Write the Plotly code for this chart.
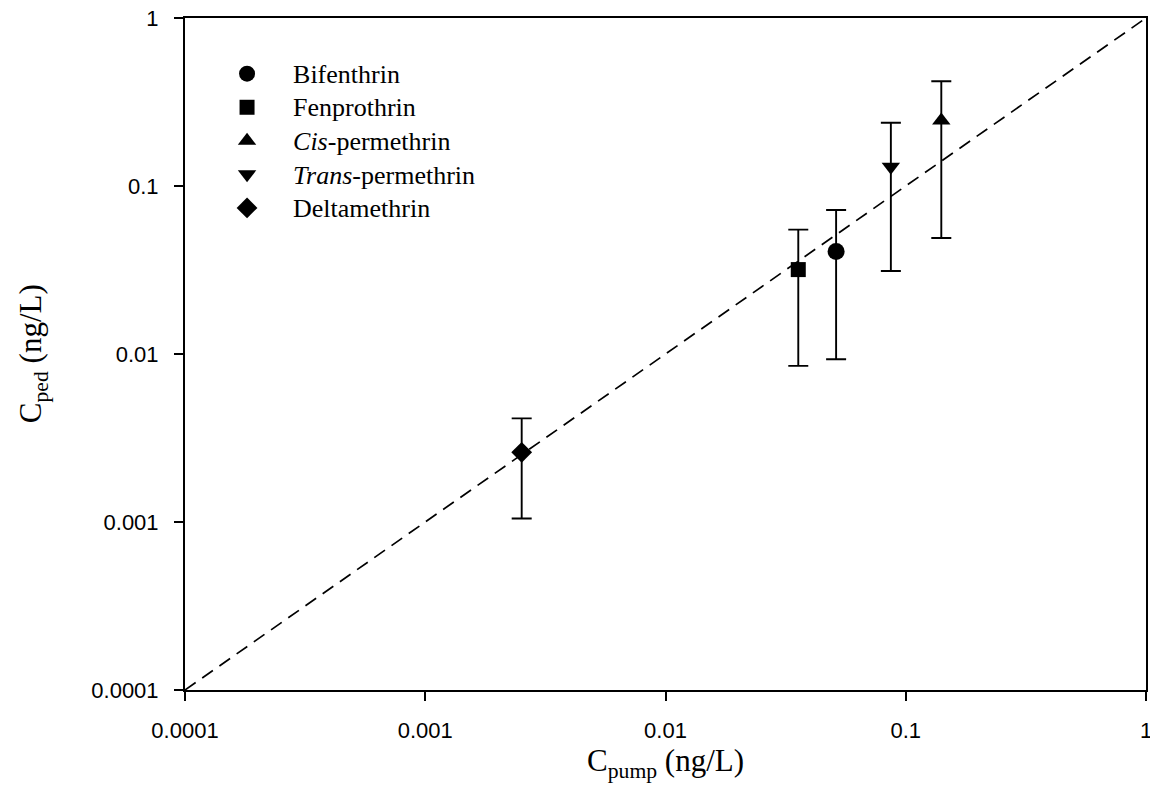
import plotly.graph_objects as go

names = ["Bifenthrin", "Fenprothrin", "<i>Cis</i>-permethrin", "<i>Trans</i>-permethrin", "Deltamethrin"]
c_pump = [0.0513, 0.0357, 0.1406, 0.0867, 0.00252]
c_ped = [0.0408, 0.0318, 0.245, 0.130, 0.0026]
err_hi = [0.0719, 0.055, 0.42, 0.238, 0.00414]
err_lo = [0.0093, 0.0085, 0.049, 0.0312, 0.00105]
symbols = ["circle", "square", "triangle-up", "triangle-down", "diamond"]
sizes = [17, 15, 16, 16, 16]

tick_vals = [0.0001, 0.001, 0.01, 0.1, 1]
tick_text = ["0.0001", "0.001", "0.01", "0.1", "1"]

serif = "Liberation Serif, Times New Roman, serif"
sans = "Liberation Sans, Arial, sans-serif"

fig = go.Figure()

fig.add_trace(go.Scatter(
    x=[tick_vals[0], tick_vals[-1]], y=[tick_vals[0], tick_vals[-1]],
    mode="lines", line=dict(color="black", width=1.7, dash="13px,8px"),
    showlegend=False, hoverinfo="skip"))

for i in range(len(names)):
    fig.add_trace(go.Scatter(
        x=[c_pump[i]], y=[c_ped[i]], mode="markers",
        name='<span style="font-size:26px">' + names[i] + '</span>',
        marker=dict(symbol=symbols[i], size=sizes[i], color="black"),
        error_y=dict(type="data", symmetric=False,
                     array=[err_hi[i] - c_ped[i]],
                     arrayminus=[c_ped[i] - err_lo[i]],
                     color="black", thickness=1.9, width=10)))

axis_common = dict(
    type="log", range=[-4, 0], showgrid=False, zeroline=False,
    showline=True, linecolor="black", linewidth=2, mirror=True,
    ticks="outside", ticklen=9, tickwidth=2, tickcolor="black",
    tickvals=tick_vals, ticktext=tick_text, automargin=False,
    ticklabeloverflow="allow",
    tickfont=dict(family=sans, size=22, color="black"))

fig.update_layout(
    width=1150, height=811,
    margin=dict(l=185, r=4, t=18, b=121),
    paper_bgcolor="white", plot_bgcolor="white",
    xaxis=dict(**axis_common, ticklabelstandoff=11),
    yaxis=dict(**axis_common, ticklabelstandoff=11),
    legend=dict(x=0.0167, y=0.9495, xanchor="left", yanchor="top",
                bgcolor="rgba(0,0,0,0)", borderwidth=0,
                font=dict(family=serif, size=23.5, color="black"),
                itemwidth=82, tracegroupgap=0),
    showlegend=True,
    annotations=[
        dict(text="C<sub>pump</sub> (ng/L)", xref="paper", yref="paper",
             x=0.5, y=-0.108, xanchor="center", yanchor="middle", showarrow=False,
             font=dict(family=serif, size=31, color="black")),
        dict(text="C<sub>ped</sub> (ng/L)", xref="paper", yref="paper",
             x=-0.158, y=0.5, xanchor="center", yanchor="middle", showarrow=False,
             textangle=-90, font=dict(family=serif, size=31, color="black")),
    ],
)

fig.write_html("out.html", config={"displayModeBar": False},
               post_script="document.body.style.margin='0';document.body.style.overflow='hidden';")
